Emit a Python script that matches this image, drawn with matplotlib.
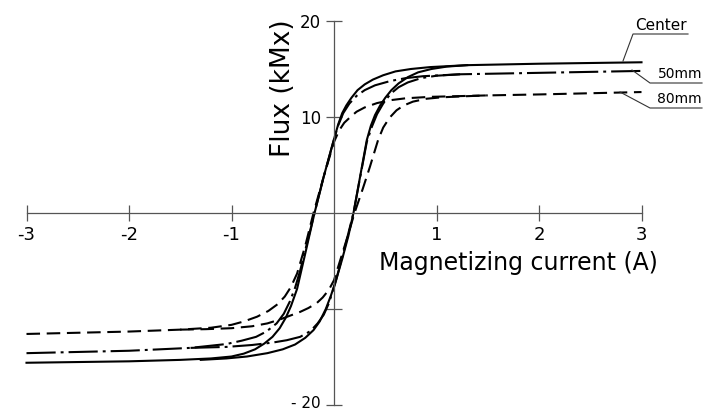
import matplotlib
matplotlib.use("Agg")
from matplotlib import pyplot
from matplotlib.lines import Line2D

# Center (solid) - upper (falling) branch and lower (rising) branch
center_up_x = [-3.0, -2.0, -1.5, -1.2, -1.0, -0.88, -0.77, -0.68, -0.6, -0.53, -0.47, -0.42, -0.36,
               -0.28, -0.19, -0.1, -0.01, 0.04, 0.08, 0.12, 0.17, 0.23, 0.3, 0.38, 0.48, 0.6,
               0.75, 0.94, 1.3, 2.0, 3.0]
center_up_y = [-15.6, -15.45, -15.3, -15.15, -14.95, -14.65, -14.2, -13.6, -12.9, -12.0, -10.9, -9.7,
               -7.9, -4.2, 0.0, 3.8, 7.3, 9.2, 10.4, 11.2, 12.0, 12.8, 13.4, 13.9, 14.35, 14.75,
               15.0, 15.2, 15.4, 15.55, 15.7]
center_lo_x = [-1.3, -1.05, -0.85, -0.65, -0.5, -0.38, -0.28, -0.2, -0.14, -0.08, -0.03, 0.02, 0.08,
               0.14, 0.19, 0.26, 0.32, 0.36, 0.4, 0.45, 0.5, 0.56, 0.63, 0.72, 0.82, 0.95, 1.1, 1.3]
center_lo_y = [-15.3, -15.15, -14.95, -14.6, -14.2, -13.7, -13.0, -12.2, -11.3, -10.0, -8.6, -7.0,
               -4.8, -2.4, 0.0, 4.1, 7.6, 9.1, 10.2, 11.2, 12.0, 12.8, 13.5, 14.15, 14.65, 15.0,
               15.25, 15.4]

# 50 mm (dash-dot)
mm50_up_x = [-3.0, -2.0, -1.4, -1.05, -0.9, -0.76, -0.66, -0.56, -0.49, -0.43, -0.38, -0.33, -0.26,
             -0.19, -0.1, -0.01, 0.04, 0.09, 0.15, 0.22, 0.3, 0.4, 0.55, 0.7, 0.87, 1.23, 2.0, 3.0]
mm50_up_y = [-14.6, -14.35, -14.05, -13.65, -13.3, -12.9, -12.35, -11.5, -10.5, -9.2, -7.8, -6.0,
             -3.0, 0.0, 3.8, 7.3, 9.1, 10.4, 11.4, 12.2, 12.8, 13.3, 13.75, 14.05, 14.25, 14.45,
             14.6, 14.8]
mm50_lo_x = [-1.4, -1.05, -0.8, -0.6, -0.46, -0.33, -0.23, -0.16, -0.1, -0.05, 0.01, 0.1, 0.19,
             0.26, 0.32, 0.37, 0.42, 0.48, 0.55, 0.63, 0.72, 0.85, 1.0, 1.23]
mm50_lo_y = [-14.05, -13.95, -13.75, -13.5, -13.25, -12.9, -12.3, -11.5, -10.6, -9.4, -7.4, -3.8,
             0.0, 4.0, 7.4, 9.0, 10.3, 11.4, 12.4, 13.1, 13.6, 14.05, 14.3, 14.45]

# 80 mm (dashed)
mm80_up_x = [-3.0, -2.0, -1.5, -1.2, -1.0, -0.88, -0.75, -0.64, -0.55, -0.48, -0.42, -0.36, -0.28,
             -0.2, -0.1, 0.0, 0.05, 0.1, 0.16, 0.22, 0.3, 0.42, 0.55, 0.7, 0.94, 1.5, 2.0, 3.0]
mm80_up_y = [-12.6, -12.35, -12.15, -11.95, -11.65, -11.3, -10.8, -10.2, -9.5, -8.7, -7.7, -6.3,
             -3.4, 0.0, 3.8, 7.4, 8.6, 9.4, 10.0, 10.55, 11.0, 11.45, 11.75, 11.95, 12.1, 12.25,
             12.35, 12.6]
mm80_lo_x = [-1.5, -1.25, -1.0, -0.8, -0.65, -0.53, -0.43, -0.33, -0.25, -0.17, -0.11, -0.05, 0.0,
             0.07, 0.14, 0.2, 0.28, 0.35, 0.43, 0.48, 0.54, 0.61, 0.68, 0.77, 0.9, 1.05, 1.25, 1.5]
mm80_lo_y = [-12.15, -12.1, -12.0, -11.8, -11.5, -11.1, -10.7, -10.3, -9.9, -9.4, -8.8, -8.0, -7.0,
             -4.6, -2.2, 0.0, 2.5, 4.8, 7.6, 8.9, 9.9, 10.7, 11.2, 11.6, 11.9, 12.05, 12.15, 12.25]

x_ticks = [-3, -2, -1, 1, 2, 3]
x_tick_labels = ["-3", "-2", "-1", "1", "2", "3"]
y_ticks = [-20, -10, 10, 20]
y_tick_labels = ["", "", "10", "20"]

W, H = 704, 411


def px(x, y):
    # pixel position -> figure fraction
    return x / W, 1 - y / H


fig = pyplot.figure(figsize=(W / 100, H / 100), dpi=100)
ax = fig.add_axes([0, 0, 1, 1])
ax.set_xlim(-334 / 102.5, (W - 334) / 102.5)
ax.set_ylim((213 - H) / 9.6, 213 / 9.6)

axis_col = "#555555"
for s in ["top", "right"]:
    ax.spines[s].set_visible(False)
ax.spines["left"].set_position(("data", 0))
ax.spines["bottom"].set_position(("data", 0))
ax.spines["bottom"].set_bounds(-3, 3)
ax.spines["left"].set_bounds(-20, 20)
for s in ["left", "bottom"]:
    ax.spines[s].set_color(axis_col)
    ax.spines[s].set_linewidth(0.9)

ax.set_xticks(x_ticks)
ax.set_xticklabels(x_tick_labels)
ax.set_yticks(y_ticks)
ax.set_yticklabels(y_tick_labels)
ax.tick_params(axis="both", direction="inout", length=11, width=0.9, color=axis_col)
ax.tick_params(axis="x", labelsize=13, pad=4)
ax.tick_params(axis="y", labelsize=12, pad=4)

# -20 sits right at the lower edge, so place it by hand
fig.text(*px(321, 403), "- 20", fontsize=11, ha="right", va="center")

lw = 1.5
dash = (0, (6.5, 3.2))
dashdot = (0, (14, 2.4, 1.4, 2.4))

ax.plot(center_up_x, center_up_y, color="k", lw=lw)
ax.plot(center_lo_x, center_lo_y, color="k", lw=lw)
ax.plot(mm50_up_x, mm50_up_y, color="k", lw=lw, linestyle=dashdot)
ax.plot(mm50_lo_x, mm50_lo_y, color="k", lw=lw, linestyle=dashdot)
ax.plot(mm80_up_x, mm80_up_y, color="k", lw=lw, linestyle=dash)
ax.plot(mm80_lo_x, mm80_lo_y, color="k", lw=lw, linestyle=dash)

# axis titles
fig.text(*px(379, 263), "Magnetizing current (A)", fontsize=17, ha="left", va="center")
fig.text(*px(283, 88), "Flux (kMx)", fontsize=19, rotation=90, ha="center", va="center")

# curve labels with leader lines
leaders = [
    ([623, 633, 688], [61, 34, 34]),
    ([632, 650, 702], [70, 83, 83]),
    ([620, 650, 702], [92, 108, 108]),
]
for xs, ys in leaders:
    fx = [x / W for x in xs]
    fy = [1 - y / H for y in ys]
    fig.add_artist(Line2D(fx, fy, color="#333333", lw=0.8))

fig.text(*px(635, 33), "Center", fontsize=11, ha="left", va="bottom")
fig.text(*px(702, 81), "50mm", fontsize=10, ha="right", va="bottom")
fig.text(*px(702, 106), "80mm", fontsize=10, ha="right", va="bottom")

pyplot.savefig("out.png", dpi=100)
